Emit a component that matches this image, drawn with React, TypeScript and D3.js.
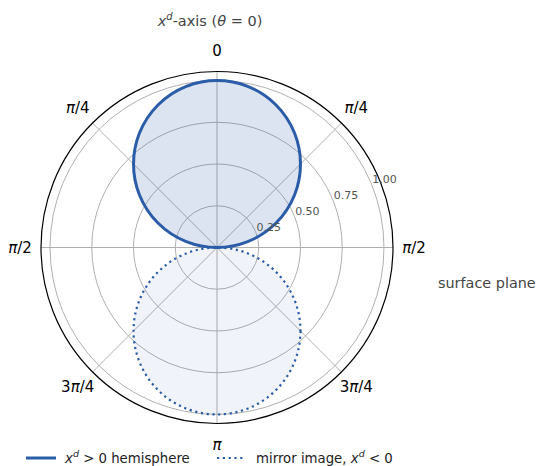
import React from 'react';
import * as d3 from 'd3';

// radial grid values and angular tick labels (theta measured clockwise from top)
const radialTicks = [0.25, 0.5, 0.75, 1.0];
const radialTickLabels = ['0.25', '0.50', '0.75', '1.00'];
const angleTicks = [0, 45, 90, 135, 180, 225, 270, 315];
const angleLabels = ['0', 'π/4', 'π/2', '3π/4', 'π', '3π/4', 'π/2', 'π/4'];

// lobes: direction (deg) and peak radius of r = |cos θ|
const lobeNames = ['hemisphere', 'mirror'];
const lobeDirs = [0, 180];
const lobePeaks = [1.0, 1.0];

const BLUE = '#2b5ca8';
const FONT = 'DejaVu Sans, sans-serif';

// mathtext-ish: italic pi
function mathLabel(s: string) {
  return s.split(/(π)/).filter((p) => p !== '').map((p, i) =>
    p === 'π' ? <tspan key={i} fontStyle="italic">π</tspan> : <tspan key={i}>{p}</tspan>
  );
}

export default function App() {
  const width = 539;
  const height = 466;
  const cx = 217;
  const cy = 247.5;
  const rMax = 1.054;
  const r = d3.scaleLinear().domain([0, rMax]).range([0, 176]);
  const labelR = 197;
  const rad = (deg: number) => (deg * Math.PI) / 180;
  const px = (deg: number, rr: number) => cx + rr * Math.sin(rad(deg));
  const py = (deg: number, rr: number) => cy - rr * Math.cos(rad(deg));

  return (
    <svg width={width} height={height} style={{ position: 'absolute', left: 0, top: 0, fontFamily: FONT }}>
      <rect width={width} height={height} fill="#fff" />

      {/* grid */}
      {radialTicks.map((t) => (
        <circle key={t} cx={cx} cy={cy} r={r(t)} fill="none" stroke="#b0b0b0" strokeWidth={1} />
      ))}
      {angleTicks.map((a) => (
        <line key={a} x1={cx} y1={cy} x2={px(a, r(rMax))} y2={py(a, r(rMax))} stroke="#b0b0b0" strokeWidth={1} />
      ))}

      {/* lobes */}
      {lobeNames.map((n, i) => {
        const half = r(lobePeaks[i] / 2);
        const ccx = px(lobeDirs[i], half);
        const ccy = py(lobeDirs[i], half);
        const solid = i === 0;
        return (
          <g key={n}>
            <circle cx={ccx} cy={ccy} r={half} fill={BLUE} fillOpacity={solid ? 0.17 : 0.07} stroke="none" />
            <circle
              cx={ccx}
              cy={ccy}
              r={half}
              fill="none"
              stroke={BLUE}
              strokeWidth={solid ? 3 : 2.2}
              strokeDasharray={solid ? undefined : '2.2,3.6'}
            />
          </g>
        );
      })}

      {/* outer frame */}
      <circle cx={cx} cy={cy} r={r(rMax)} fill="none" stroke="#000" strokeWidth={1.2} />

      {/* radial labels */}
      {radialTicks.map((t, i) => (
        <text key={t} x={px(67.5, r(t)) + 1} y={py(67.5, r(t)) - 1} fontSize={11} fill="#555" textAnchor="start">
          {radialTickLabels[i]}
        </text>
      ))}

      {/* angular labels */}
      {angleTicks.map((a, i) => (
        <text
          key={a}
          x={px(a, labelR)}
          y={py(a, labelR)}
          fontSize={15}
          fill="#000"
          textAnchor="middle"
          dominantBaseline="central"
        >
          {mathLabel(angleLabels[i])}
        </text>
      ))}

      {/* title */}
      <text x={210} y={26} fontSize={14.5} fill="#444" textAnchor="middle">
        <tspan fontStyle="italic">x</tspan>
        <tspan fontStyle="italic" fontSize={10} dy={-6}>d</tspan>
        <tspan dy={6}>-axis (</tspan>
        <tspan fontStyle="italic">θ</tspan>
        <tspan> = 0)</tspan>
      </text>

      <text x={438} y={288} fontSize={14.4} fill="#444">surface plane</text>

      {/* legend */}
      <line x1={26} x2={56} y1={458} y2={458} stroke={BLUE} strokeWidth={3} />
      <text x={65} y={463} fontSize={13.3} fill="#222">
        <tspan fontStyle="italic">x</tspan>
        <tspan fontStyle="italic" fontSize={9.5} dy={-6}>d</tspan>
        <tspan dy={6}> &gt; 0 hemisphere</tspan>
      </text>
      <line x1={217} x2={244} y1={458} y2={458} stroke={BLUE} strokeWidth={2.2} strokeDasharray="2.2,3.6" />
      <text x={256} y={463} fontSize={13.3} fill="#222">
        <tspan>mirror image, </tspan>
        <tspan fontStyle="italic">x</tspan>
        <tspan fontStyle="italic" fontSize={9.5} dy={-6}>d</tspan>
        <tspan dy={6}> &lt; 0</tspan>
      </text>
    </svg>
  );
}
